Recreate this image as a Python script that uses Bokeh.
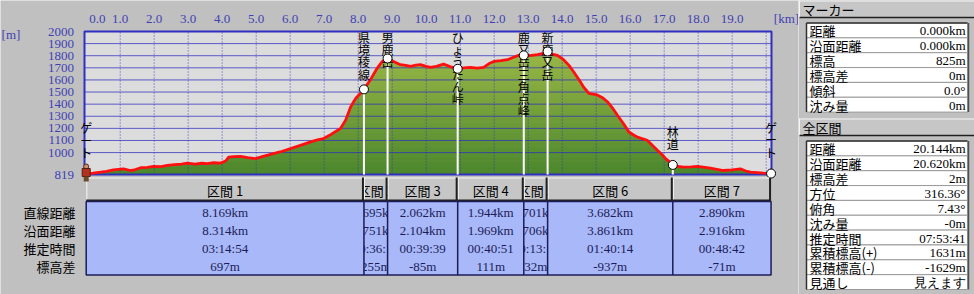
import numpy as np
from bokeh.plotting import figure
from bokeh.models import Range1d
from bokeh.layouts import row
from bokeh.embed import file_html
from bokeh.resources import INLINE
from bokeh.core.properties import value

# ---------------- data ----------------
profile_km = [0.00, 0.20, 0.42, 0.60, 0.80, 0.95, 1.10, 1.30, 1.45, 1.60, 1.80, 1.98, 2.20, 2.39,
              2.60, 2.80, 2.98, 3.20, 3.40, 3.57, 3.75, 3.95, 4.10, 4.19, 4.35, 4.54, 4.75, 4.98,
              5.20, 5.42, 5.70, 6.01, 6.30, 6.60, 6.80, 6.98, 7.20, 7.48, 7.63, 7.78, 7.93, 8.07,
              8.169, 8.36, 8.56, 8.71, 8.864, 9.04, 9.24, 9.40, 9.54, 9.70, 9.83, 10.00, 10.13,
              10.30, 10.51, 10.70, 10.926, 11.10, 11.30, 11.50, 11.69, 11.85, 11.99, 12.20, 12.39,
              12.55, 12.72, 12.870, 13.05, 13.27, 13.45, 13.571, 13.66, 13.86, 14.04, 14.20, 14.33,
              14.50, 14.62, 14.78, 15.03, 15.20, 15.33, 15.50, 15.62, 15.80, 15.96, 16.10, 16.21,
              16.35, 16.50, 16.65, 16.80, 16.95, 17.04, 17.15, 17.253, 17.40, 17.57, 17.80, 17.98,
              18.20, 18.36, 18.55, 18.74, 19.00, 19.24, 19.40, 19.54, 19.75, 19.92, 20.143]
profile_m = [825, 830, 838, 845, 858, 862, 866, 852, 860, 875, 878, 886, 884, 894,
             900, 905, 913, 905, 912, 908, 916, 913, 930, 963, 966, 969, 958, 950,
             968, 985, 1005, 1033, 1060, 1088, 1105, 1116, 1150, 1199, 1268, 1379, 1449, 1490,
             1522, 1601, 1698, 1753, 1777, 1753, 1726, 1720, 1712, 1722, 1726, 1712, 1703,
             1712, 1731, 1710, 1692, 1700, 1703, 1698, 1703, 1735, 1753, 1760, 1767,
             1785, 1803, 1803, 1800, 1809, 1820, 1835, 1815, 1803, 1767, 1720, 1670,
             1600, 1545, 1490, 1476, 1450, 1420, 1360, 1310, 1240, 1171, 1145, 1129,
             1115, 1102, 1060, 1019, 980, 950, 925, 898, 885, 880, 882, 886,
             878, 871, 862, 852, 858, 866, 848, 838, 834, 830, 827]

start_elev = 825
waypoint_names = ["ゲート", "県境稜線", "男鹿岳", "ひょうたん峠", "鹿又岳三角点峰", "新鹿又岳", "林道", "ゲート"]
section_names = ["区間 1", "区間 2", "区間 3", "区間 4", "区間 5", "区間 6", "区間 7"]
section_straight_km = [8.169, 0.695, 2.062, 1.944, 0.701, 3.682, 2.890]
section_surface_km = [8.314, 0.751, 2.104, 1.969, 0.706, 3.861, 2.916]
section_time = ["03:14:54", "00:36:10", "00:39:39", "00:40:51", "00:13:11", "01:40:14", "00:48:42"]
section_diff_m = [697, 255, -85, 111, 32, -937, -71]
row_labels = ["直線距離", "沿面距離", "推定時間", "標高差"]

x_tick_values = list(range(0, 20))
x_grid_values = list(range(1, 21))
y_tick_values = [819] + list(range(1000, 2001, 100))
y_grid_values = list(range(1000, 2000, 100))
x_unit, y_unit = "[km]", "[m]"

marker_title = "マーカー"
marker_keys = ["距離", "沿面距離", "標高", "標高差", "傾斜", "沈み量"]
marker_vals = ["0.000km", "0.000km", "825m", "0m", "0.0°", "0m"]
total_title = "全区間"
total_keys = ["距離", "沿面距離", "標高差", "方位", "俯角", "沈み量", "推定時間", "累積標高(+)", "累積標高(-)", "見通し"]
total_vals = ["20.144km", "20.620km", "2m", "316.36°", "7.43°", "-0m", "07:53:41", "1631m", "-1629m", "見えます"]

wp_km = np.concatenate([[0.0], np.cumsum(section_straight_km)])
wp_m = start_elev + np.concatenate([[0], np.cumsum(section_diff_m)])

# ---------------- style ----------------
BG = "#c0c0c0"
PLOT_BG = "#dcdcdc"
BLUE = "#2f2fc0"
AXIS_TXT = "#4040b4"
RED = "#ff1010"
HEAD = "#c6c6c6"
CELL = "#a8b8f8"
NAVY = "#1c1c58"
DARK = "#202020"
NUMF = "Liberation Serif"
JP = "Noto Sans CJK JP"

W_LEFT, W_SIDE, H_ALL = 798, 176, 294
FRAME_L, FRAME_R, FRAME_T, FRAME_B = 84, 771, 31, 174
X0, X1 = -0.05, 20.156
Y0, Y1 = 819, 2000
PX_KM = (X1 - X0) / (FRAME_R - FRAME_L)
PX_M = (Y1 - Y0) / (FRAME_B - FRAME_T)
ZERO_SHIFT = 0.33


def xpx(p):
    return X0 + (p - FRAME_L) * PX_KM


def ypx(p):
    return Y0 + (FRAME_B - p) * PX_M


# ---------------- left canvas: profile + section table ----------------
F = figure(width=W_LEFT, height=H_ALL, x_range=Range1d(xpx(0), xpx(W_LEFT)),
           y_range=Range1d(ypx(H_ALL), ypx(0)), x_axis_location=None, y_axis_location=None,
           output_backend="svg", toolbar_location=None, min_border=0)
F.background_fill_color = BG
F.border_fill_color = BG
F.outline_line_color = None
F.grid.visible = False

F.quad(left=[X0], right=[X1], bottom=[Y0], top=[Y1], fill_color=PLOT_BG, line_color=None)

pk = np.array(profile_km)
pm = np.array(profile_m, dtype=float)
lo_rgb = np.array([0x4a, 0x86, 0x2c])
hi_rgb = np.array([0x98, 0xb6, 0x46])
for top in np.arange(Y1, Y0, -40.0):
    f = min(max((top - Y0) / (pm.max() - Y0), 0.0), 1.0)
    c = lo_rgb + (hi_rgb - lo_rgb) * f
    col = "#%02x%02x%02x" % tuple(int(round(v)) for v in c)
    F.varea(x=pk, y1=np.full_like(pm, Y0), y2=np.minimum(pm, top), fill_color=col)

# grid
gx = np.array(x_grid_values, dtype=float)
F.segment(x0=gx, y0=np.full(len(gx), Y0), x1=gx, y1=np.full(len(gx), Y1),
          line_color=BLUE, line_dash="1 2", line_width=1, line_alpha=0.85)
gy = np.array(y_grid_values, dtype=float)
F.segment(x0=np.full(len(gy), X0), y0=gy, x1=np.full(len(gy), X1), y1=gy,
          line_color=BLUE, line_width=1, line_alpha=0.75)
F.quad(left=[X0], right=[X1], bottom=[Y0], top=[Y1], fill_color=None, line_color=BLUE, line_width=2)

F.line(pk, pm, line_color=RED, line_width=2.8)

F.segment(x0=wp_km[1:-1], y0=np.full(len(wp_km) - 2, Y0), x1=wp_km[1:-1], y1=wp_m[1:-1],
          line_color="white", line_width=2)

# vertical waypoint labels
n_chars = np.array([len(s) for s in waypoint_names])
CHAR_PX = 12.3
GAP_PX = 13
LH = 0.72
vert = ["\n".join(list(s)) for s in waypoint_names]
is_top = wp_m + (GAP_PX + n_chars * CHAR_PX) * PX_M > Y1
top_idx = np.where(is_top)[0]
bot_idx = np.where(~is_top)[0]
F.text(x=wp_km[top_idx], y=np.full(len(top_idx), ypx(28.5)), text=[vert[i] for i in top_idx],
       text_font=value(JP), text_font_size="12px", text_align="center", text_baseline="top",
       text_line_height=LH, text_color="black")
F.text(x=wp_km[bot_idx], y=wp_m[bot_idx] + GAP_PX * PX_M, text=[vert[i] for i in bot_idx],
       text_font=value(JP), text_font_size="12px", text_align="center", text_baseline="bottom",
       text_line_height=LH, text_color="black")

F.scatter(wp_km[1:], wp_m[1:], size=9, fill_color="white", line_color="black", line_width=1)

# tick labels and units
xt = np.array(x_tick_values, dtype=float)
xt_pos = xt.copy()
xt_pos[0] += ZERO_SHIFT
F.text(x=xt_pos, y=np.full(len(xt), ypx(18)), text=["%.1f" % v for v in xt],
       text_font=value(NUMF), text_font_size="13px", text_align="center", text_baseline="middle",
       text_color=AXIS_TXT)
yt = np.array(y_tick_values, dtype=float)
F.text(x=np.full(len(yt), xpx(73.5)), y=yt, text=["%d" % v for v in yt],
       text_font=value(NUMF), text_font_size="13px", text_align="right", text_baseline="middle",
       text_color=AXIS_TXT)
F.text(x=[xpx(10.5)], y=[ypx(34)], text=[y_unit], text_font=value(NUMF), text_font_size="13px",
       text_align="center", text_baseline="middle", text_color=AXIS_TXT)
F.text(x=[xpx(786)], y=[ypx(18)], text=[x_unit], text_font=value(NUMF), text_font_size="13px",
       text_align="center", text_baseline="middle", text_color=AXIS_TXT)

# section table
H_TOP_Y, H_BOT_Y = ypx(177), ypx(201)
D_BOT_Y = ypx(274.5)
row_y = [ypx(p) for p in (212, 230, 248, 266)]
widths = np.diff(wp_km)
for i in np.argsort(widths):
    x0, x1 = wp_km[i], wp_km[i + 1]
    mid = (x0 + x1) / 2
    F.quad(left=[x0], right=[x1], top=[H_TOP_Y], bottom=[H_BOT_Y], fill_color=HEAD, line_color=None)
    F.quad(left=[x0], right=[x1], top=[H_BOT_Y], bottom=[D_BOT_Y], fill_color=CELL, line_color=None)
    F.text(x=[mid], y=[ypx(190)], text=[section_names[i]], text_font=value(JP),
           text_font_size="13px", text_align="center", text_baseline="middle", text_color="black")
    vals = ["%.3fkm" % section_straight_km[i], "%.3fkm" % section_surface_km[i],
            section_time[i], "%dm" % section_diff_m[i]]
    F.text(x=[mid] * 4, y=row_y, text=vals, text_font=value(NUMF), text_font_size="13px",
           text_align="center", text_baseline="middle", text_color=NAVY)

l = wp_km[:-1]
r = wp_km[1:]
ns = len(l)
F.segment(x0=l, y0=np.full(ns, ypx(177.5)), x1=r, y1=np.full(ns, ypx(177.5)), line_color="#f4f4f4", line_width=1)
F.segment(x0=l + 0.6 * PX_KM, y0=np.full(ns, H_TOP_Y), x1=l + 0.6 * PX_KM, y1=np.full(ns, H_BOT_Y),
          line_color="#f4f4f4", line_width=1)
F.segment(x0=r - 1 * PX_KM, y0=np.full(ns, H_TOP_Y), x1=r - 1 * PX_KM, y1=np.full(ns, H_BOT_Y),
          line_color=DARK, line_width=2)
F.segment(x0=l, y0=np.full(ns, ypx(200)), x1=r, y1=np.full(ns, ypx(200)), line_color=DARK, line_width=2)
F.quad(left=[wp_km[0]], right=[wp_km[-1]], top=[H_BOT_Y], bottom=[D_BOT_Y], fill_color=None,
       line_color=NAVY, line_width=1.5)
F.segment(x0=wp_km[1:-1], y0=np.full(len(wp_km) - 2, H_BOT_Y), x1=wp_km[1:-1],
          y1=np.full(len(wp_km) - 2, D_BOT_Y), line_color=NAVY, line_width=1.5)
F.text(x=np.full(len(row_labels), xpx(75)), y=row_y, text=row_labels, text_font=value(JP),
       text_font_size="13px", text_align="right", text_baseline="middle", text_color="black")

# start hiker icon (approximation)
F.scatter([wp_km[0]], [ypx(166)], marker="circle", size=5, fill_color="#d09070", line_color="#503020")
F.scatter([wp_km[0]], [ypx(172)], marker="square", size=8, fill_color="#b43020", line_color="#502010")
F.scatter([wp_km[0]], [ypx(178.5)], marker="square", size=5, fill_color="#6a4a2a", line_color=None)

# ---------------- side panel ----------------
S = figure(width=W_SIDE, height=H_ALL, x_range=Range1d(0, W_SIDE), y_range=Range1d(H_ALL, 0),
           x_axis_location=None, y_axis_location=None, output_backend="svg", toolbar_location=None,
           min_border=0)
S.background_fill_color = BG
S.border_fill_color = BG
S.outline_line_color = None
S.grid.visible = False

HDR_L, HDR_H = 1, 17.5
CELL_L, CELL_R = 8, 169
ROW_H = 14.85
ROW_OFF = 22.5


def panel(title, keys, vals, top):
    S.quad(left=[HDR_L], right=[W_SIDE], top=[top], bottom=[top + HDR_H], fill_color=HEAD, line_color=None)
    S.segment(x0=[HDR_L, HDR_L], y0=[top + 0.5, top], x1=[W_SIDE, HDR_L], y1=[top + 0.5, top + HDR_H],
              line_color="#f4f4f4", line_width=1)
    S.segment(x0=[HDR_L], y0=[top + HDR_H - 0.5], x1=[W_SIDE], y1=[top + HDR_H - 0.5],
              line_color=DARK, line_width=1.5)
    S.text(x=[HDR_L + 3], y=[top + HDR_H / 2 + 0.5], text=[title], text_font=value(JP),
           text_font_size="13px", text_align="left", text_baseline="middle", text_color="black")
    n = len(keys)
    r0 = top + ROW_OFF
    tops = r0 + ROW_H * np.arange(n)
    S.quad(left=np.full(n, CELL_L), right=np.full(n, CELL_R), top=tops, bottom=tops + ROW_H,
           fill_color="white", line_color="#9a9a9a", line_width=1)
    S.segment(x0=[CELL_L, CELL_L], y0=[r0, r0], x1=[CELL_L, CELL_R], y1=[r0 + n * ROW_H, r0],
              line_color="#303030", line_width=1.5)
    S.segment(x0=[CELL_R + 1], y0=[r0], x1=[CELL_R + 1], y1=[r0 + n * ROW_H],
              line_color="#505050", line_width=1.5)
    S.text(x=np.full(n, CELL_L + 3), y=tops + ROW_H / 2 + 0.5, text=keys, text_font=value(JP),
           text_font_size="13px", text_align="left", text_baseline="middle", text_color="black")
    S.text(x=np.full(n, CELL_R - 2), y=tops + ROW_H / 2 + 0.5, text=vals, text_font=value(NUMF),
           text_font_size="13px", text_align="right", text_baseline="middle", text_color="black")


panel(marker_title, marker_keys, marker_vals, 0)
panel(total_title, total_keys, total_vals, 118)

layout = row(F, S)
open("out.html", "w").write(file_html(layout, INLINE))
